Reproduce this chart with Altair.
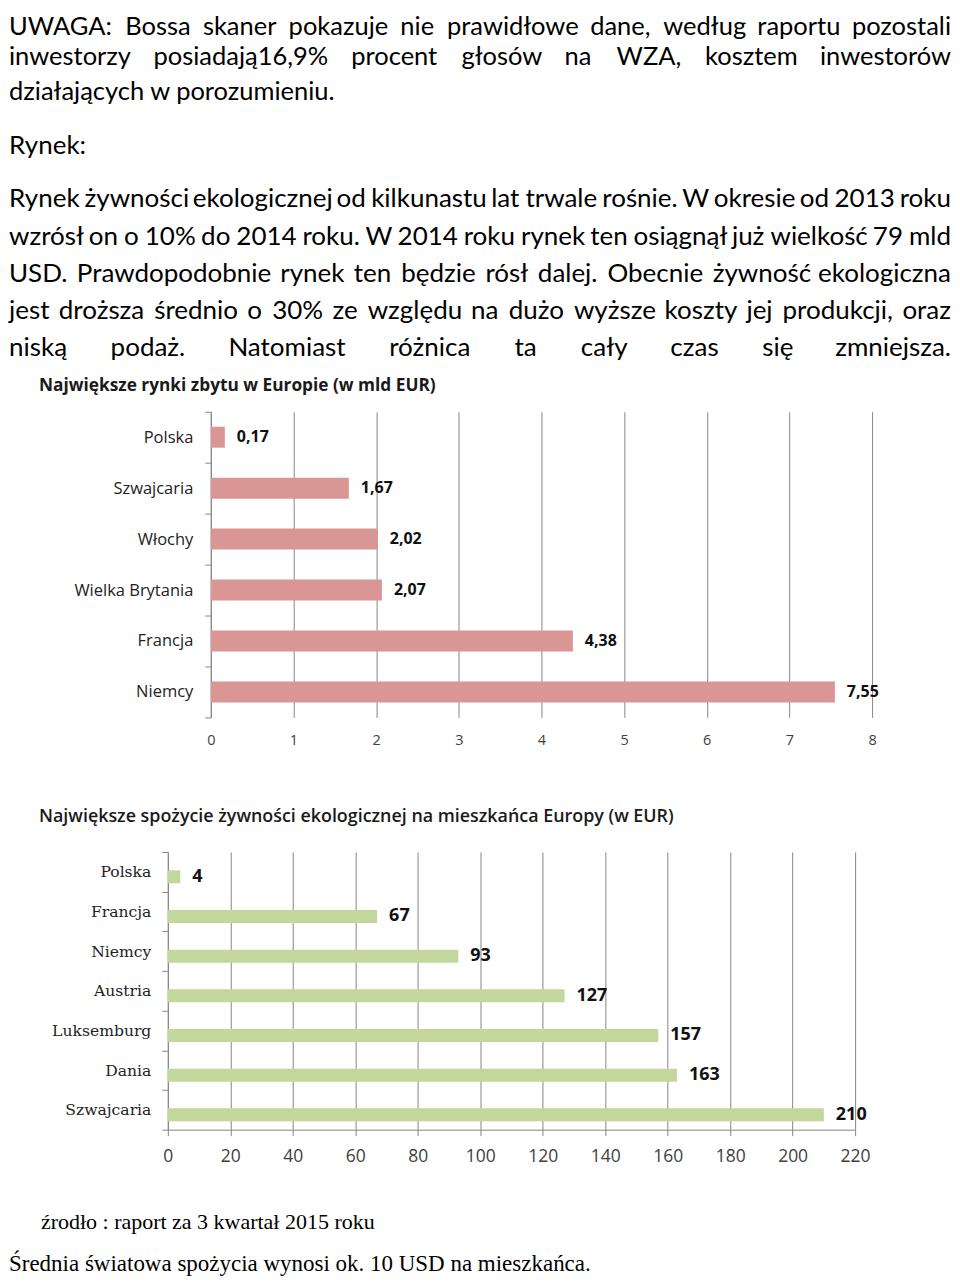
import altair as alt
import pandas as pd

# ---------------- data ----------------
rynki_kraje = ["Polska", "Szwajcaria", "Włochy", "Wielka Brytania", "Francja", "Niemcy"]
rynki_wartosci = [0.17, 1.67, 2.02, 2.07, 4.38, 7.55]
rynki_ticks = [0, 1, 2, 3, 4, 5, 6, 7, 8]

spozycie_kraje = ["Polska", "Francja", "Niemcy", "Austria", "Luksemburg", "Dania", "Szwajcaria"]
spozycie_wartosci = [4, 67, 93, 127, 157, 163, 210]
spozycie_ticks = [0, 20, 40, 60, 80, 100, 120, 140, 160, 180, 200, 220]

tytul1 = "Największe rynki zbytu w Europie (w mld EUR)"
tytul2 = "Największe spożycie żywności ekologicznej na mieszkańca Europy (w EUR)"
zrodlo = "źrodło : raport za 3 kwartał 2015 roku"
srednia = "Średnia światowa spożycia wynosi ok. 10 USD na mieszkańca."

uwaga_lines = [
    "UWAGA: Bossa skaner pokazuje nie prawidłowe dane, według raportu pozostali",
    "inwestorzy posiadają16,9% procent głosów na WZA, kosztem inwestorów",
    "działających w porozumieniu.",
]
rynek_head = "Rynek:"
rynek_lines = [
    "Rynek żywności ekologicznej od kilkunastu lat trwale rośnie. W okresie od 2013 roku",
    "wzrósł on o 10%  do 2014 roku. W 2014 roku rynek ten osiągnął już wielkość 79 mld",
    "USD. Prawdopodobnie rynek ten będzie rósł dalej. Obecnie żywność ekologiczna",
    "jest droższa średnio o 30% ze względu na dużo wyższe koszty jej produkcji, oraz",
    "niską podaż. Natomiast różnica ta cały czas się zmniejsza.",
]

df1 = pd.DataFrame({
    "kraj": rynki_kraje,
    "wartosc": rynki_wartosci,
    "etykieta": [f"{v:.2f}".replace(".", ",") for v in rynki_wartosci],
})
df2 = pd.DataFrame({
    "kraj": spozycie_kraje,
    "wartosc": spozycie_wartosci,
    "etykieta": [str(v) for v in spozycie_wartosci],
})

# ---------------- layout helpers (page coordinates) ----------------
O1 = (167, 411)   # plot origin of chart 1 on the page
O2 = (167, 851)   # plot origin of chart 2 on the page
LEFT, RIGHT = 8, 951
ONE = alt.Data(values=[{}])

BODY = dict(font="Lato", color="#000000")

# approximate advance widths of Lato (em) used to justify lines
_W = {
    "a": .51, "b": .56, "c": .47, "d": .56, "e": .52, "f": .32, "g": .50, "h": .56,
    "i": .24, "j": .24, "k": .50, "l": .24, "m": .83, "n": .56, "o": .56, "p": .56,
    "q": .56, "r": .36, "s": .42, "t": .35, "u": .56, "v": .50, "w": .78, "x": .49,
    "y": .50, "z": .45, "ą": .51, "ę": .52, "ó": .56, "ś": .42, "ż": .45, "ź": .45,
    "ć": .47, "ń": .56, "ł": .28,
    "A": .68, "B": .64, "C": .68, "D": .75, "E": .56, "F": .54, "G": .74, "H": .76,
    "I": .28, "J": .40, "K": .66, "L": .50, "M": .92, "N": .76, "O": .80, "P": .60,
    "R": .63, "S": .52, "T": .58, "U": .73, "W": 1.0, "Z": .62,
    "0": .58, "1": .58, "2": .58, "3": .58, "4": .58, "5": .58, "6": .58, "7": .58,
    "8": .58, "9": .58, "%": .78, ",": .22, ".": .22, ":": .25,
}


def est(word, fs):
    return sum(_W.get(ch, .55) for ch in word) * fs * 0.99


def txt(s, px, py, origin, align="left", **style):
    st = dict(BODY)
    st.update(style)
    return alt.Chart(ONE).mark_text(
        text=s, x=px - origin[0], y=py - origin[1],
        align=align, baseline="alphabetic", **st
    )


def justify(line, py, fs, origin):
    ws = line.split()
    widths = [est(w, fs) for w in ws]
    gap = (RIGHT - LEFT - sum(widths)) / (len(ws) - 1)
    out, x = [], LEFT
    for i, w in enumerate(ws):
        if i == len(ws) - 1:
            out.append(txt(w, RIGHT, py, origin, align="right", fontSize=fs))
        else:
            out.append(txt(w, x, py, origin, fontSize=fs))
            x += widths[i] + gap
    return out


FS_A, FS_B = 25.5, 26
texts1 = []
texts1 += justify(uwaga_lines[0], 33.5, FS_A, O1)
texts1 += justify(uwaga_lines[1], 64, FS_A, O1)
texts1.append(txt(uwaga_lines[2], LEFT, 99, O1, fontSize=FS_A))
texts1.append(txt(rynek_head, LEFT, 153, O1, fontSize=FS_B))
for line, py in zip(rynek_lines, [206, 244, 281, 318, 355]):
    texts1 += justify(line, py, FS_B, O1)
texts1.append(txt(tytul1, 38, 390, O1, font="Open Sans", fontSize=17.3,
                  fontWeight="bold", color="#1a1a1a"))

texts2 = [
    txt(tytul2, 38, 821, O2, font="Open Sans", fontSize=17.9, fontWeight=600, color="#1a1a1a"),
    txt(zrodlo, 40, 1228, O2, font="Liberation Serif", fontSize=22),
    txt(srednia, LEFT, 1270, O2, font="Liberation Serif", fontSize=23),
]

GRID = "#868686"

# ---------------- chart 1 ----------------
x1 = alt.X("wartosc:Q",
           scale=alt.Scale(domain=[0, 8], range=[43, 705], nice=False),
           axis=alt.Axis(title=None, values=rynki_ticks, grid=True, gridColor=GRID,
                         domain=False, ticks=False, labelPadding=16, labelFlush=False,
                         labelFont="Open Sans", labelFontSize=14.5, labelColor="#404040"))
y1 = alt.Y("kraj:N", sort=rynki_kraje,
           scale=alt.Scale(paddingInner=0, paddingOuter=0),
           axis=alt.Axis(title=None, offset=-43, tickBand="extent", tickSize=6,
                         tickColor=GRID, domainColor=GRID, labelPadding=12, grid=False,
                         labelFont="Open Sans", labelFontSize=16.5, labelColor="#222222"))
base1 = alt.Chart(df1)
bars1 = base1.mark_bar(size=21, color="#D99694").encode(x=x1, y=y1)
lab1 = base1.mark_text(align="left", dx=12, font="Open Sans", fontSize=16,
                       fontWeight="bold", color="#111111").encode(x=x1, y=y1, text="etykieta:N")
chart1 = alt.layer(bars1, lab1, *texts1).properties(width=705, height=306)

# ---------------- chart 2 ----------------
x2 = alt.X("wartosc:Q",
           scale=alt.Scale(domain=[0, 220], nice=False),
           axis=alt.Axis(title=None, values=spozycie_ticks, grid=True, gridColor=GRID,
                         domain=True, domainColor=GRID, ticks=True, tickColor=GRID,
                         tickSize=6, labelPadding=12, labelFlush=False,
                         labelFont="Open Sans", labelFontSize=17.5, labelColor="#404040"))
y2 = alt.Y("kraj:N", sort=spozycie_kraje,
           scale=alt.Scale(paddingInner=0, paddingOuter=0),
           axis=alt.Axis(title=None, tickBand="extent", tickSize=6, tickColor=GRID,
                         domainColor=GRID, labelPadding=11, grid=False,
                         labelFont="DejaVu Serif", labelFontSize=15.6, labelColor="#222222"))
base2 = alt.Chart(df2)
bars2 = base2.mark_bar(size=13, yOffset=5, color="#C3D69B").encode(x=x2, y=y2)
lab2 = base2.mark_text(align="left", dx=12, yOffset=5, font="Open Sans", fontSize=18,
                       fontWeight="bold", color="#111111").encode(x=x2, y=y2, text="etykieta:N")
chart2 = alt.layer(bars2, lab2, *texts2).properties(width=688, height=278)

chart = alt.vconcat(chart1, chart2, spacing=59.7).properties(
    padding={"top": 5.5, "left": 0, "right": 0, "bottom": 0}, background="white"
).configure_view(stroke="transparent")

chart.save("out.html", embed_options={"renderer": "svg", "actions": False})
